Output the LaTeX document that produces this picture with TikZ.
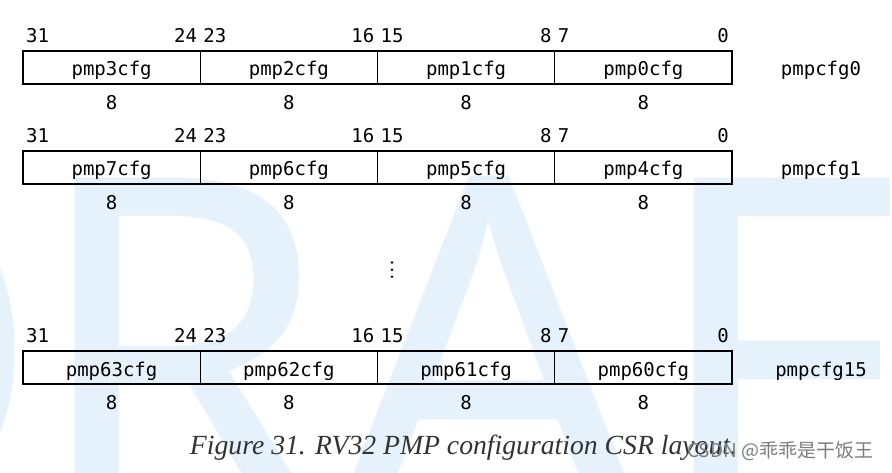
\documentclass[tikz,border=0pt]{standalone}
\usepackage{fontspec}
\setmainfont{Liberation Serif}
\newfontfamily\regfont{DejaVu Sans Mono}
\newfontfamily\wmfont{Noto Sans}
\newfontfamily\cjkfont{Noto Sans CJK SC}
\definecolor{wmblue}{RGB}{230,242,251}
\definecolor{capgray}{RGB}{51,51,51}
\definecolor{csdngray}{RGB}{125,125,125}
\tikzset{
  field/.style={draw=black, line width=1.1pt, minimum width=177.25pt, minimum height=33pt,
    inner sep=0pt, text height=17pt, text depth=0pt, font=\regfont\fontsize{19}{20}\selectfont},
  bitl/.style={inner sep=0pt, font=\regfont\fontsize{19}{20}\selectfont},
  wm/.style={anchor=base west, inner sep=0pt, font=\wmfont\fontsize{491}{491}\selectfont, text=wmblue},
  vdot/.style={fill=black}
}
\begin{document}
\begin{tikzpicture}[x=1pt,y=-1pt]
\useasboundingbox (0,0) rectangle (892,473);
\begin{scope}
  \clip (0,0) rectangle (892,473);
  \node[wm, anchor=base east] (wmd) at (45,528) {D};
  \node[wm] (wmr) at (27,528) {RAFT};
\end{scope}
\foreach \rw/\ty/\fa/\fb/\fc/\fd/\reg in {0/51/3/2/1/0/pmpcfg0, 1/151/7/6/5/4/pmpcfg1, 2/351/63/62/61/60/pmpcfg15} {
  \foreach \nm [count=\i from 0] in {\fa,\fb,\fc,\fd} {
    \pgfmathsetmacro\cx{23+177.25*\i+88.625}
    \pgfmathsetmacro\cy{\ty+16.5}
    \node[field] (f\rw-\i) at (\cx,\cy) {pmp\nm cfg};
    \pgfmathtruncatemacro\hi{31-8*\i}
    \pgfmathtruncatemacro\lo{24-8*\i}
    \node[bitl, anchor=base west] (h\rw-\i) at ([xshift=3.5pt,yshift=8pt]f\rw-\i.north west) {\hi};
    \node[bitl, anchor=base east] (l\rw-\i) at ([xshift=-3.5pt,yshift=8pt]f\rw-\i.north east) {\lo};
    \node[bitl, anchor=base] (w\rw-\i) at ([yshift=-25pt]f\rw-\i.south) {8};
  }
  \pgfmathsetmacro\by{\ty+25}
  \node[bitl, anchor=base] (reg\rw) at (821,\by) {\reg};
}
\foreach \yy in {262.5,269.7,276.8} \fill[vdot] (392,\yy) circle (1.4);
\node[anchor=base, inner sep=0pt, font=\itshape\fontsize{27.7}{30}\selectfont, text=capgray] (cap) at (463.5,454) {Figure 31. RV32 PMP configuration CSR layout.};
\node[anchor=west, inner sep=0pt, font=\cjkfont\fontsize{19}{20}\selectfont, text=csdngray] (csdn) at (687,451) {CSDN @乖乖是干饭王};
\end{tikzpicture}
\end{document}
